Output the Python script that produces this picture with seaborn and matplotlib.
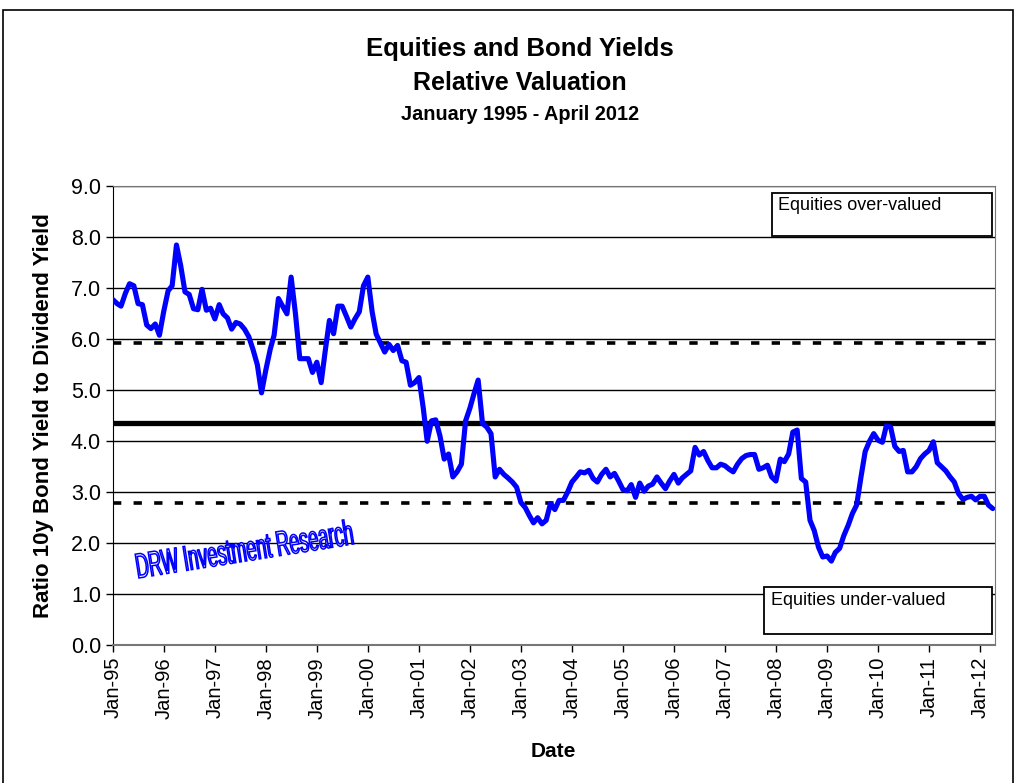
import numpy as np
import pandas as pd
import matplotlib
matplotlib.use("Agg")
import matplotlib.pyplot as plt
import matplotlib.dates as mdates
from matplotlib.patches import Rectangle, PathPatch
from matplotlib.textpath import TextPath
from matplotlib.font_manager import FontProperties
from matplotlib.transforms import Affine2D
import seaborn as sns

# monthly ratio of 10y bond yield to dividend yield, Jan-1995 .. Apr-2012
ratio = [
    6.78, 6.70, 6.65, 6.90, 7.09, 7.05, 6.70, 6.68, 6.28, 6.21, 6.30, 6.08,   # 1995
    6.55, 6.95, 7.05, 7.85, 7.45, 6.93, 6.88, 6.60, 6.58, 6.98, 6.57, 6.61,   # 1996
    6.40, 6.68, 6.50, 6.42, 6.20, 6.33, 6.30, 6.20, 6.05, 5.80, 5.50, 4.95,   # 1997
    5.40, 5.80, 6.08, 6.80, 6.65, 6.50, 7.22, 6.50, 5.62, 5.62, 5.62, 5.35,   # 1998
    5.55, 5.15, 5.75, 6.37, 6.11, 6.65, 6.65, 6.45, 6.24, 6.40, 6.54, 7.05,   # 1999
    7.22, 6.54, 6.10, 5.92, 5.75, 5.90, 5.78, 5.88, 5.58, 5.55, 5.10, 5.15,   # 2000
    5.25, 4.65, 4.00, 4.40, 4.42, 4.10, 3.65, 3.75, 3.30, 3.40, 3.55, 4.40,   # 2001
    4.65, 4.95, 5.20, 4.35, 4.28, 4.15, 3.30, 3.45, 3.35, 3.28, 3.20, 3.10,   # 2002
    2.80, 2.70, 2.55, 2.40, 2.50, 2.38, 2.45, 2.78, 2.66, 2.84, 2.84, 3.00,   # 2003
    3.20, 3.30, 3.40, 3.38, 3.43, 3.27, 3.20, 3.35, 3.45, 3.30, 3.37, 3.22,   # 2004
    3.05, 3.03, 3.15, 2.90, 3.18, 3.02, 3.12, 3.16, 3.30, 3.18, 3.07, 3.22,   # 2005
    3.35, 3.18, 3.28, 3.35, 3.42, 3.88, 3.73, 3.80, 3.62, 3.48, 3.48, 3.55,   # 2006
    3.52, 3.45, 3.40, 3.55, 3.66, 3.72, 3.74, 3.74, 3.45, 3.48, 3.53, 3.30,   # 2007
    3.22, 3.65, 3.60, 3.75, 4.18, 4.22, 3.27, 3.20, 2.45, 2.25, 1.92, 1.73,   # 2008
    1.75, 1.65, 1.82, 1.90, 2.15, 2.35, 2.58, 2.75, 3.30, 3.80, 4.00, 4.15,   # 2009
    4.02, 3.98, 4.30, 4.28, 3.90, 3.80, 3.82, 3.40, 3.40, 3.50, 3.66, 3.75,   # 2010
    3.82, 3.99, 3.58, 3.50, 3.42, 3.30, 3.20, 2.97, 2.86, 2.90, 2.92, 2.85,   # 2011
    2.92, 2.92, 2.75, 2.68,                                                   # 2012
]
dates = pd.date_range("1995-01-01", periods=len(ratio), freq="MS")

mean_level = 4.35
upper_band = 5.92
lower_band = 2.78

df = pd.DataFrame({"Date": dates, "Ratio": ratio})

sns.set_style("white")
plt.rcParams["font.family"] = ["Liberation Sans", "DejaVu Sans"]
for key in ["text.color", "axes.labelcolor", "xtick.color", "ytick.color"]:
    plt.rcParams[key] = "black"

fig = plt.figure(figsize=(10.16, 7.83), dpi=100)
ax = fig.add_axes([0.111, 0.176, 0.868, 0.586])

# outer chart border
fig.patches.append(Rectangle((0.003, -0.01), 0.994, 0.997, transform=fig.transFigure,
                             fill=False, edgecolor="black", linewidth=1.2))

ax.set_ylim(0, 9)
ax.set_yticks(np.arange(0, 9.5, 1.0))
ax.set_yticklabels([f"{v:.1f}" for v in np.arange(0, 9.5, 1.0)])
ax.grid(axis="y", color="black", linewidth=1.0)
ax.grid(axis="x", visible=False)

ax.axhline(upper_band, color="black", linewidth=2.6, linestyle=(0, (2.3, 3.4)), zorder=3)
ax.axhline(lower_band, color="black", linewidth=2.6, linestyle=(0, (2.3, 3.4)), zorder=3)
ax.axhline(mean_level, color="black", linewidth=3.8, zorder=3)

sns.lineplot(data=df, x="Date", y="Ratio", ax=ax, color="#0000FF", linewidth=3.7, zorder=4)

ax.set_xlim(pd.Timestamp("1995-01-01"), pd.Timestamp("2012-04-15"))
ax.xaxis.set_major_locator(mdates.YearLocator(month=1, day=1))
ax.xaxis.set_major_formatter(mdates.DateFormatter("%b-%y"))
plt.setp(ax.get_xticklabels(), rotation=90)
ax.tick_params(axis="x", labelsize=14.5, direction="out", length=5, width=1, bottom=True, color="black")
ax.tick_params(axis="y", labelsize=15.5, direction="out", length=5, width=1, left=True, color="black")

for side in ["top", "right", "bottom"]:
    ax.spines[side].set_color("#777777")
ax.spines["left"].set_color("black")
ax.spines["bottom"].set_linewidth(1.5)

ax.set_xlabel("Date", fontsize=15, fontweight="bold", labelpad=17)
ax.set_ylabel("Ratio 10y Bond Yield to Dividend Yield", fontsize=16, fontweight="bold", labelpad=12)

fig.text(0.512, 0.938, "Equities and Bond Yields", ha="center", va="center", fontsize=18.5, fontweight="bold")
fig.text(0.512, 0.894, "Relative Valuation", ha="center", va="center", fontsize=18, fontweight="bold")
fig.text(0.512, 0.854, "January 1995 - April 2012", ha="center", va="center", fontsize=14.3, fontweight="bold")

# annotation boxes
ax.add_patch(Rectangle((0.748, 0.891), 0.249, 0.094, transform=ax.transAxes, facecolor="white",
                       edgecolor="black", linewidth=1.3, zorder=6))
ax.text(0.754, 0.976, "Equities over-valued", transform=ax.transAxes, fontsize=13,
        va="top", ha="left", zorder=7)
ax.add_patch(Rectangle((0.738, 0.024), 0.259, 0.102, transform=ax.transAxes, facecolor="white",
                       edgecolor="black", linewidth=1.3, zorder=6))
ax.text(0.746, 0.117, "Equities under-valued", transform=ax.transAxes, fontsize=13,
        va="top", ha="left", zorder=7)

# watermark: condensed, outlined and tilted text
fig.canvas.draw()
wm_path = TextPath((0, 0), "DRW Investment Research", size=35,
                   prop=FontProperties(family="Liberation Sans"))
x0, y0 = ax.transAxes.transform((0.028, 0.146))
wm_trans = Affine2D().scale(0.52, 1.0).rotate_deg(9).translate(x0, y0)
ax.add_patch(PathPatch(wm_path, transform=wm_trans, facecolor="white", edgecolor="#0000FF",
                       linewidth=1.1, clip_on=False, zorder=5))

fig.savefig("out.png", dpi=100)
